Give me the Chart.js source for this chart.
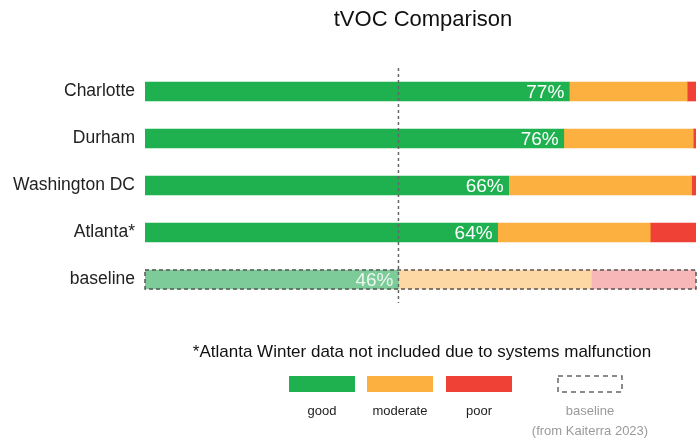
<!DOCTYPE html>
<html>
<head>
<meta charset="utf-8">
<script src="https://cdn.jsdelivr.net/npm/chart.js@4/dist/chart.umd.min.js"></script>
<style>
  html, body { margin: 0; padding: 0; background: #fff; overflow: hidden; }
  #wrap { width: 698px; height: 442px; }
</style>
</head>
<body>
<div id="wrap"><canvas id="tvoc-chart" width="698" height="442"></canvas></div>
<script>
const categories = ["Charlotte", "Durham", "Washington DC", "Atlanta*", "baseline"];
const good = [77, 76, 66, 64, 46];
const moderate = [21.4, 23.5, 33.2, 27.7, 35];
const poor = [1.6, 0.5, 0.8, 8.3, 19];

const FONT = "'Liberation Sans', Arial, sans-serif";

// solid colours for the cities, faded ones for the baseline row
const colGood = ["#1fb14f", "#1fb14f", "#1fb14f", "#1fb14f", "#7dcb99"];
const colModerate = ["#fbb040", "#fbb040", "#fbb040", "#fbb040", "#fdd8a5"];
const colPoor = ["#ef4136", "#ef4136", "#ef4136", "#ef4136", "#f7b7b9"];

const extras = {
  id: "extras",
  afterDatasetsDraw(chart) {
    const ctx = chart.ctx;
    const x = chart.scales.x;
    const area = chart.chartArea;
    const bars = chart.getDatasetMeta(0).data;

    // percent labels inside the green bars
    ctx.save();
    ctx.font = "19px " + FONT;
    ctx.textAlign = "right";
    ctx.textBaseline = "middle";
    bars.forEach((b, i) => {
      ctx.fillStyle = i === bars.length - 1 ? "rgba(255,255,255,0.85)" : "#fff";
      ctx.fillText(good[i] + "%", b.x - 5, b.y + 1);
    });
    ctx.restore();

    // dashed outline round the baseline bar
    const last = bars[bars.length - 1];
    const h = last.height;
    ctx.save();
    ctx.strokeStyle = "#555";
    ctx.lineWidth = 1.5;
    ctx.setLineDash([4, 3]);
    const x0 = x.getPixelForValue(0);
    const x1 = x.getPixelForValue(good[4] + moderate[4] + poor[4]);
    ctx.strokeRect(x0, last.y - h / 2, x1 - x0, h);
    ctx.restore();

    // vertical line at the baseline "good" share
    const xb = x.getPixelForValue(good[4]);
    ctx.save();
    ctx.strokeStyle = "#666";
    ctx.lineWidth = 1.5;
    ctx.setLineDash([3, 3]);
    ctx.beginPath();
    ctx.moveTo(xb, area.top);
    ctx.lineTo(xb, area.bottom);
    ctx.stroke();
    ctx.restore();
  },
  afterDraw(chart) {
    const ctx = chart.ctx;
    ctx.save();
    ctx.textAlign = "center";
    ctx.textBaseline = "middle";

    ctx.fillStyle = "#111";
    ctx.font = "22px " + FONT;
    ctx.fillText("tVOC Comparison", 423, 20);

    ctx.font = "17px " + FONT;
    ctx.fillText("*Atlanta Winter data not included due to systems malfunction", 422, 352);

    // legend
    const items = [
      { label: "good", color: colGood[0], x: 289 },
      { label: "moderate", color: colModerate[0], x: 367 },
      { label: "poor", color: colPoor[0], x: 446 }
    ];
    ctx.font = "13px " + FONT;
    items.forEach(it => {
      ctx.fillStyle = it.color;
      ctx.fillRect(it.x, 376, 66, 16);
      ctx.fillStyle = "#222";
      ctx.fillText(it.label, it.x + 33, 411);
    });
    ctx.strokeStyle = "#666";
    ctx.lineWidth = 1.5;
    ctx.setLineDash([5, 4]);
    ctx.strokeRect(558, 376, 64, 16);
    ctx.setLineDash([]);
    ctx.fillStyle = "#9a9a9a";
    ctx.fillText("baseline", 590, 411);
    ctx.fillText("(from Kaiterra 2023)", 590, 431);
    ctx.restore();
  }
};

const data = {
  labels: categories,
  datasets: [
    { label: "good", data: good, backgroundColor: colGood, barThickness: 19 },
    { label: "moderate", data: moderate, backgroundColor: colModerate, barThickness: 19 },
    { label: "poor", data: poor, backgroundColor: colPoor, barThickness: 19 }
  ]
};

const config = {
  type: "bar",
  data: data,
  options: {
    indexAxis: "y",
    responsive: false,
    animation: false,
    layout: { padding: { top: 68, bottom: 139, left: 0, right: 2 } },
    scales: {
      x: { stacked: true, min: 0, max: 100, display: false },
      y: {
        stacked: true,
        grid: { display: false },
        border: { display: false },
        ticks: { color: "#222", padding: 2, font: { family: FONT, size: 17.5 } },
        afterFit(scale) { scale.width = 145; }
      }
    },
    plugins: {
      legend: { display: false },
      tooltip: { enabled: false }
    }
  },
  plugins: [extras]
};

let myChart = new Chart(document.getElementById("tvoc-chart"), config);
</script>
</body>
</html>
